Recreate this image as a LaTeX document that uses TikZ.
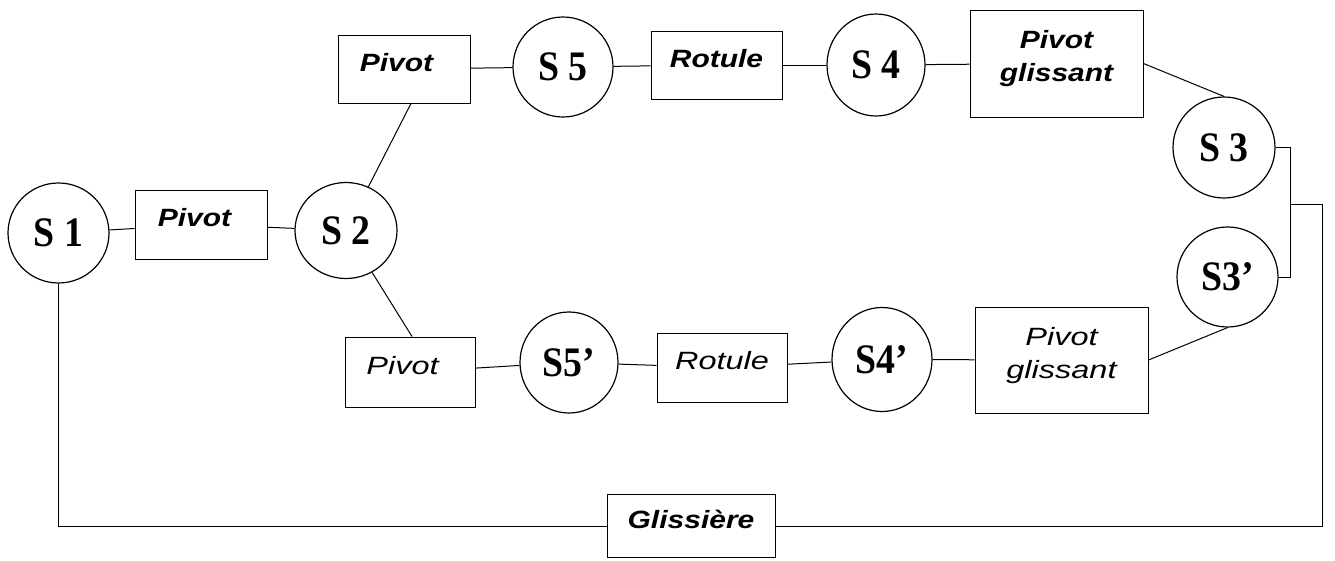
\documentclass[tikz,border=0pt]{standalone}
\usepackage{fontspec}
\setmainfont{Liberation Serif}
\newfontfamily\labsans{Liberation Sans}
\usetikzlibrary{shapes.geometric,calc}
\newcommand{\solname}[1]{\scalebox{0.9}[1]{\fontsize{42}{42}\selectfont\bfseries #1}}
\newcommand{\bjoint}[1]{\scalebox{1.2}[1]{\labsans\bfseries\itshape #1}}
\newcommand{\rjoint}[1]{\scalebox{1.3}[1]{\labsans\itshape #1}}
\tikzset{
  solid body/.style={draw, ellipse, line width=1.2pt, inner sep=0pt},
  jointbox/.style={draw, rectangle, line width=1pt, inner sep=0pt,
    font=\fontsize{25}{33}\selectfont},
  oneline/.style={text height=18pt, text depth=14pt},
  link/.style={line width=1pt}
}
\begin{document}
\begin{tikzpicture}[x=1pt,y=-1pt]
\fill[white] (0,0) rectangle (1335,560);
\useasboundingbox (0,0) rectangle (1335,560);

% solids
\node[solid body, minimum width=101pt, minimum height=100pt] (s1) at (58.5,233) {\solname{S 1}};
\node[solid body, minimum width=102pt, minimum height=96pt] (s2) at (346,230.5) {\solname{S 2}};
\node[solid body, minimum width=100pt, minimum height=100pt] (s5) at (563,67) {\solname{S 5}};
\node[solid body, minimum width=98pt, minimum height=102pt] (s4) at (876,65) {\solname{S 4}};
\node[solid body, minimum width=102pt, minimum height=101pt] (s3) at (1224,147.5) {\solname{S 3}};
\node[solid body, minimum width=101pt, minimum height=100pt] (s3p) at (1227.5,277) {\solname{S3’}};
\node[solid body, minimum width=98pt, minimum height=101pt] (s5p) at (569,362.5) {\solname{S5’}};
\node[solid body, minimum width=100pt, minimum height=104pt] (s4p) at (882,359.5) {\solname{S4’}};

% joints
\node[jointbox, oneline, minimum width=132pt, minimum height=69pt] (p1) at (201,224.5) {\bjoint{Pivot}\hspace*{13pt}};
\node[jointbox, oneline, minimum width=132pt, minimum height=68pt] (tp) at (404,69) {\bjoint{Pivot}\hspace*{15pt}};
\node[jointbox, oneline, minimum width=131pt, minimum height=68pt] (r1) at (716.5,65) {\bjoint{Rotule}};
\node[jointbox, align=center, minimum width=173pt, minimum height=107pt] (pg1) at (1056.5,63.5) {\bjoint{Pivot}\\\bjoint{glissant}\\[-18pt]\mbox{}};
\node[jointbox, oneline, minimum width=130pt, minimum height=70pt] (bp) at (410,372) {\rjoint{Pivot}\hspace*{15pt}};
\node[jointbox, oneline, minimum width=130pt, minimum height=69pt] (r2) at (722,367.5) {\rjoint{Rotule}};
\node[jointbox, align=center, minimum width=173pt, minimum height=106pt] (pg2) at (1061.5,360) {\rjoint{Pivot}\\\rjoint{glissant}\\[-18pt]\mbox{}};
\node[jointbox, oneline, minimum width=168pt, minimum height=63pt] (gl) at (691,526) {\bjoint{Glissière}};

% junctions on the right
\coordinate (j1) at (1290,204);
\coordinate (j2) at (1322,204);

% links
\draw[link] (s1) -- (p1);
\draw[link] (p1) -- (s2);
\draw[link] ($(tp.south)+(7,0)$) -- (s2);
\draw[link] ($(bp.north)+(2,0)$) -- (s2);
\draw[link] (tp) -- (s5);
\draw[link] (s5) -- (r1);
\draw[link] (r1) -- (s4);
\draw[link] (s4) -- (pg1);
\draw[link] (pg1.east) -- (s3.north);
\draw[link] (bp) -- (s5p);
\draw[link] (s5p) -- (r2);
\draw[link] (r2) -- (s4p);
\draw[link] (s4p) -- (pg2);
\draw[link] (pg2.east) -- (s3p.south);
\draw[link] (s3.east) -| (j1) |- (s3p.east);
\draw[link] (j1) -- (j2) |- (gl.east);
\draw[link] (s1.south) |- (gl.west);
\end{tikzpicture}
\end{document}
